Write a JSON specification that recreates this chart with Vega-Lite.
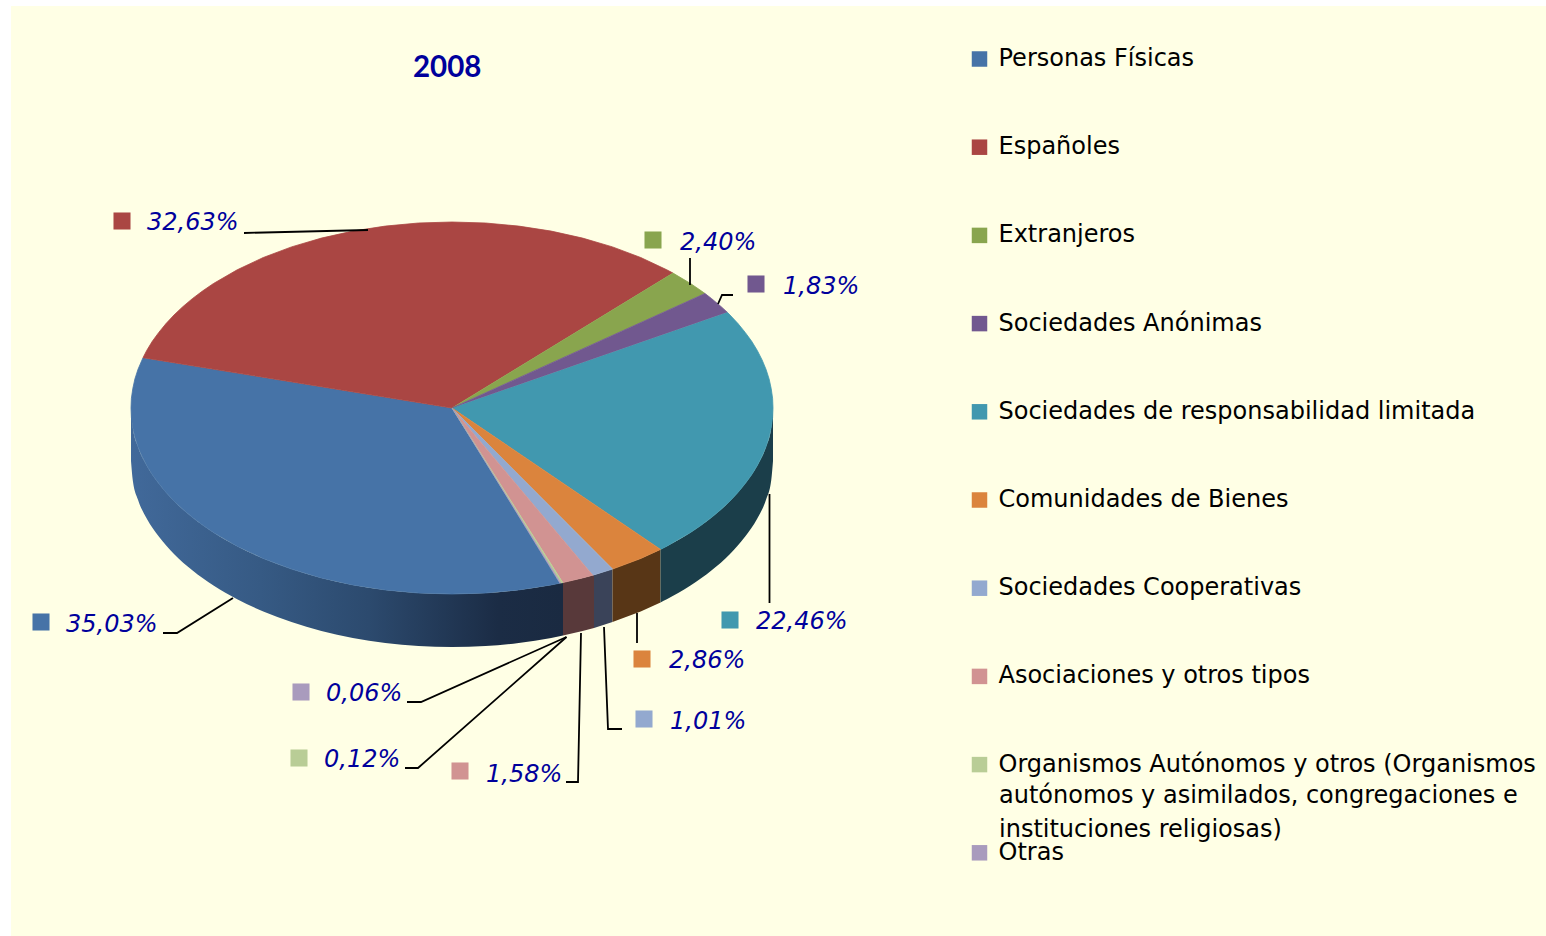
{
"$schema":"https://vega.github.io/schema/vega-lite/v6.json",
"width":1546,"height":936,"padding":0,"autosize":{"type":"none"},
"background":"#ffffff",
"view":{"stroke":null},
"title":{"text":"2008","anchor":"start","orient":"top","dx":413,"dy":83,"offset":0,"font":"Lato","fontSize":29.5,"fontWeight":"bold","color":"#00009C","zindex":1},
"datasets":{
"tipos":[
{"tipo":"Personas Físicas","cuota":35.03,"etiqueta":"35,03%","kx":41,"ky":622,"tx":66,"ty":625},
{"tipo":"Españoles","cuota":32.63,"etiqueta":"32,63%","kx":122,"ky":221,"tx":147,"ty":223},
{"tipo":"Extranjeros","cuota":2.40,"etiqueta":"2,40%","kx":653,"ky":240,"tx":680,"ty":243},
{"tipo":"Sociedades Anónimas","cuota":1.83,"etiqueta":"1,83%","kx":756,"ky":284,"tx":783,"ty":287},
{"tipo":"Sociedades de responsabilidad limitada","cuota":22.46,"etiqueta":"22,46%","kx":730,"ky":620,"tx":756,"ty":622},
{"tipo":"Comunidades de Bienes","cuota":2.86,"etiqueta":"2,86%","kx":642,"ky":659,"tx":669,"ty":661},
{"tipo":"Sociedades Cooperativas","cuota":1.01,"etiqueta":"1,01%","kx":644,"ky":719,"tx":670,"ty":722},
{"tipo":"Asociaciones y otros tipos","cuota":1.58,"etiqueta":"1,58%","kx":460,"ky":771,"tx":486,"ty":775},
{"tipo":"Organismos Autónomos y otros (Organismos","cuota":0.12,"etiqueta":"0,12%","kx":299,"ky":758,"tx":324,"ty":760},
{"tipo":"Otras","cuota":0.06,"etiqueta":"0,06%","kx":301,"ky":692,"tx":326,"ty":694}
],
"caras":[
{"t":"Sociedades de responsabilidad limitada","o":0,"x":452,"y":408},{"t":"Sociedades de responsabilidad limitada","o":1,"x":727.2,"y":312.2},{"t":"Sociedades de responsabilidad limitada","o":2,"x":730,"y":315},{"t":"Sociedades de responsabilidad limitada","o":2.5,"x":738,"y":323.6},{"t":"Sociedades de responsabilidad limitada","o":3,"x":745.2,"y":332.4},{"t":"Sociedades de responsabilidad limitada","o":3.5,"x":751.7,"y":341.3},{"t":"Sociedades de responsabilidad limitada","o":4,"x":757.3,"y":350.5},{"t":"Sociedades de responsabilidad limitada","o":4.5,"x":762.1,"y":359.9},{"t":"Sociedades de responsabilidad limitada","o":5,"x":766,"y":369.3},{"t":"Sociedades de responsabilidad limitada","o":5.5,"x":769.1,"y":378.9},{"t":"Sociedades de responsabilidad limitada","o":6,"x":771.2,"y":388.6},{"t":"Sociedades de responsabilidad limitada","o":6.5,"x":772.6,"y":398.3},{"t":"Sociedades de responsabilidad limitada","o":7,"x":773,"y":408},{"t":"Sociedades de responsabilidad limitada","o":7.5,"x":772.6,"y":417.7},{"t":"Sociedades de responsabilidad limitada","o":8,"x":771.2,"y":427.4},{"t":"Sociedades de responsabilidad limitada","o":8.5,"x":769.1,"y":437.1},{"t":"Sociedades de responsabilidad limitada","o":9,"x":766,"y":446.7},{"t":"Sociedades de responsabilidad limitada","o":9.5,"x":762.1,"y":456.1},{"t":"Sociedades de responsabilidad limitada","o":10,"x":757.3,"y":465.5},{"t":"Sociedades de responsabilidad limitada","o":10.5,"x":751.7,"y":474.7},{"t":"Sociedades de responsabilidad limitada","o":11,"x":745.2,"y":483.6},{"t":"Sociedades de responsabilidad limitada","o":11.5,"x":738,"y":492.4},{"t":"Sociedades de responsabilidad limitada","o":12,"x":730,"y":501},{"t":"Sociedades de responsabilidad limitada","o":12.5,"x":721.2,"y":509.3},{"t":"Sociedades de responsabilidad limitada","o":13,"x":711.7,"y":517.3},{"t":"Sociedades de responsabilidad limitada","o":13.5,"x":701.5,"y":525},{"t":"Sociedades de responsabilidad limitada","o":14,"x":690.5,"y":532.5},{"t":"Sociedades de responsabilidad limitada","o":15,"x":666.8,"y":546.2},{"t":"Sociedades de responsabilidad limitada","o":16,"x":660.5,"y":549.4},
{"t":"Comunidades de Bienes","o":0,"x":452,"y":408},{"t":"Comunidades de Bienes","o":1,"x":660.5,"y":549.4},{"t":"Comunidades de Bienes","o":2,"x":640.7,"y":558.5},{"t":"Comunidades de Bienes","o":3,"x":612.5,"y":569.1},
{"t":"Sociedades Cooperativas","o":0,"x":452,"y":408},{"t":"Sociedades Cooperativas","o":1,"x":612.5,"y":569.1},{"t":"Sociedades Cooperativas","o":2,"x":592.7,"y":575.2},
{"t":"Asociaciones y otros tipos","o":0,"x":452,"y":408},{"t":"Asociaciones y otros tipos","o":1,"x":592.7,"y":575.2},{"t":"Asociaciones y otros tipos","o":2,"x":582.6,"y":577.9},{"t":"Asociaciones y otros tipos","o":3,"x":562.8,"y":582.6},
{"t":"Personas Físicas","o":0,"x":452,"y":408},{"t":"Personas Físicas","o":1,"x":559.7,"y":583.2},{"t":"Personas Físicas","o":2,"x":551.2,"y":584.9},{"t":"Personas Físicas","o":3,"x":518.7,"y":589.9},{"t":"Personas Físicas","o":4,"x":485.5,"y":593},{"t":"Personas Físicas","o":5,"x":452,"y":594},{"t":"Personas Físicas","o":6,"x":418.5,"y":593},{"t":"Personas Físicas","o":7,"x":385.3,"y":589.9},{"t":"Personas Físicas","o":8,"x":352.8,"y":584.9},{"t":"Personas Físicas","o":9,"x":321.4,"y":577.9},{"t":"Personas Físicas","o":10,"x":291.5,"y":569.1},{"t":"Personas Físicas","o":11,"x":263.3,"y":558.5},{"t":"Personas Físicas","o":12,"x":237.2,"y":546.2},{"t":"Personas Físicas","o":13,"x":213.5,"y":532.5},{"t":"Personas Físicas","o":13.5,"x":202.5,"y":525},{"t":"Personas Físicas","o":14,"x":192.3,"y":517.3},{"t":"Personas Físicas","o":14.5,"x":182.8,"y":509.3},{"t":"Personas Físicas","o":15,"x":174,"y":501},{"t":"Personas Físicas","o":15.5,"x":166,"y":492.4},{"t":"Personas Físicas","o":16,"x":158.8,"y":483.6},{"t":"Personas Físicas","o":16.5,"x":152.3,"y":474.7},{"t":"Personas Físicas","o":17,"x":146.7,"y":465.5},{"t":"Personas Físicas","o":17.5,"x":141.9,"y":456.1},{"t":"Personas Físicas","o":18,"x":138,"y":446.7},{"t":"Personas Físicas","o":18.5,"x":134.9,"y":437.1},{"t":"Personas Físicas","o":19,"x":132.8,"y":427.4},{"t":"Personas Físicas","o":19.5,"x":131.4,"y":417.7},{"t":"Personas Físicas","o":20,"x":131,"y":408},{"t":"Personas Físicas","o":20.5,"x":131.4,"y":398.3},{"t":"Personas Físicas","o":21,"x":132.8,"y":388.6},{"t":"Personas Físicas","o":21.5,"x":134.9,"y":378.9},{"t":"Personas Físicas","o":22,"x":138,"y":369.3},{"t":"Personas Físicas","o":23,"x":143,"y":357.7},
{"t":"Españoles","o":0,"x":452,"y":408},{"t":"Españoles","o":1,"x":143,"y":357.7},{"t":"Españoles","o":2,"x":146.7,"y":350.5},{"t":"Españoles","o":2.5,"x":152.3,"y":341.3},{"t":"Españoles","o":3,"x":158.8,"y":332.4},{"t":"Españoles","o":3.5,"x":166,"y":323.6},{"t":"Españoles","o":4,"x":174,"y":315},{"t":"Españoles","o":4.5,"x":182.8,"y":306.7},{"t":"Españoles","o":5,"x":192.3,"y":298.7},{"t":"Españoles","o":5.5,"x":202.5,"y":291},{"t":"Españoles","o":6,"x":213.5,"y":283.5},{"t":"Españoles","o":7,"x":237.2,"y":269.8},{"t":"Españoles","o":8,"x":263.3,"y":257.5},{"t":"Españoles","o":9,"x":291.5,"y":246.9},{"t":"Españoles","o":10,"x":321.4,"y":238.1},{"t":"Españoles","o":11,"x":352.8,"y":231.1},{"t":"Españoles","o":12,"x":385.3,"y":226.1},{"t":"Españoles","o":13,"x":418.5,"y":223},{"t":"Españoles","o":14,"x":452,"y":222},{"t":"Españoles","o":15,"x":485.5,"y":223},{"t":"Españoles","o":16,"x":518.7,"y":226.1},{"t":"Españoles","o":17,"x":551.2,"y":231.1},{"t":"Españoles","o":18,"x":582.6,"y":238.1},{"t":"Españoles","o":19,"x":612.5,"y":246.9},{"t":"Españoles","o":20,"x":640.7,"y":257.5},{"t":"Españoles","o":21,"x":666.8,"y":269.8},{"t":"Españoles","o":22,"x":673,"y":273.1},
{"t":"Extranjeros","o":0,"x":452,"y":408},{"t":"Extranjeros","o":1,"x":673,"y":273.1},{"t":"Extranjeros","o":2,"x":690.5,"y":283.5},{"t":"Extranjeros","o":2.5,"x":701.5,"y":291},{"t":"Extranjeros","o":3,"x":705,"y":293.5},
{"t":"Sociedades Anónimas","o":0,"x":452,"y":408},{"t":"Sociedades Anónimas","o":1,"x":705,"y":293.5},{"t":"Sociedades Anónimas","o":2,"x":711.7,"y":298.7},{"t":"Sociedades Anónimas","o":2.5,"x":721.2,"y":306.7},{"t":"Sociedades Anónimas","o":3,"x":727.2,"y":312.2},
{"t":"Organismos Autónomos y otros (Organismos","o":0,"x":452,"y":408},{"t":"Organismos Autónomos y otros (Organismos","o":1,"x":562.8,"y":582.6},{"t":"Organismos Autónomos y otros (Organismos","o":2,"x":560.7,"y":583},
{"t":"Otras","o":0,"x":452,"y":408},{"t":"Otras","o":1,"x":560.7,"y":583},{"t":"Otras","o":2,"x":559.7,"y":583.2}
],
"guias":[
{"t":"35,03%","o":1,"x":163,"y":633},{"t":"35,03%","o":2,"x":177,"y":633},{"t":"35,03%","o":3,"x":233,"y":598},
{"t":"32,63%","o":1,"x":244,"y":233},{"t":"32,63%","o":2,"x":368,"y":230},
{"t":"2,40%","o":1,"x":690,"y":258},{"t":"2,40%","o":2,"x":690,"y":285},
{"t":"1,83%","o":1,"x":733,"y":295},{"t":"1,83%","o":2,"x":722,"y":295},{"t":"1,83%","o":3,"x":718,"y":304},
{"t":"22,46%","o":1,"x":769.5,"y":494},{"t":"22,46%","o":2,"x":769.5,"y":603},
{"t":"2,86%","o":1,"x":637,"y":613},{"t":"2,86%","o":2,"x":637,"y":643},
{"t":"1,01%","o":1,"x":604,"y":627},{"t":"1,01%","o":2,"x":608,"y":729},{"t":"1,01%","o":3,"x":622,"y":729},
{"t":"1,58%","o":1,"x":581,"y":633},{"t":"1,58%","o":2,"x":578,"y":782},{"t":"1,58%","o":3,"x":566,"y":782},
{"t":"0,12%","o":1,"x":566.5,"y":637},{"t":"0,12%","o":2,"x":418,"y":768},{"t":"0,12%","o":3,"x":405,"y":768},
{"t":"0,06%","o":1,"x":566.5,"y":637},{"t":"0,06%","o":2,"x":421,"y":702},{"t":"0,06%","o":3,"x":407,"y":702}
]
},
"encoding":{
"x":{"field":"x","type":"quantitative","scale":{"domain":[0,1546],"nice":false,"zero":false},"axis":null},
"y":{"field":"y","type":"quantitative","scale":{"domain":[936,0],"nice":false,"zero":false},"axis":null}
},
"layer":[
{"data":{"values":[{"x":11,"x2":1546,"y":6,"y2":936}]},"mark":{"type":"rect","fill":"#FFFFE5"},"encoding":{"x2":{"field":"x2"},"y2":{"field":"y2"}}},
{"data":{"name":"tipos"},"mark":{"type":"square","size":290,"opacity":1,"filled":true},
"encoding":{"x":{"field":"kx","type":"quantitative"},"y":{"field":"ky","type":"quantitative"},
"fill":{"field":"tipo","type":"nominal","scale":{"domain":["Personas Físicas","Españoles","Extranjeros","Sociedades Anónimas","Sociedades de responsabilidad limitada","Comunidades de Bienes","Sociedades Cooperativas","Asociaciones y otros tipos","Organismos Autónomos y otros (Organismos","Otras"],"range":["#4673A7","#AA4643","#89A54E","#71588F","#4198AF","#DB843D","#93A9CF","#D19392","#B9CD96","#A99BBD"]},"legend":{"orient":"none","legendX":967.5,"legendY":47,"title":null,"padding":0,"symbolType":"square","symbolSize":240,"symbolStrokeWidth":0,"symbolOpacity":1,"labelFont":"DejaVu Sans","labelFontSize":24,"labelColor":"#000000","labelOffset":7,"labelLimit":620,"rowPadding":64.2}}}},
{"data":{"values":[{"x":131,"y":408,"y2":461},{"x":132.8,"y":427.4,"y2":480.4},{"x":138,"y":446.7,"y2":499.7},{"x":146.7,"y":465.5,"y2":518.5},{"x":158.8,"y":483.6,"y2":536.6},{"x":174,"y":501,"y2":554},{"x":192.3,"y":517.3,"y2":570.3},{"x":213.5,"y":532.5,"y2":585.5},{"x":237.2,"y":546.2,"y2":599.2},{"x":263.3,"y":558.5,"y2":611.5},{"x":291.5,"y":569.1,"y2":622.1},{"x":321.4,"y":577.9,"y2":630.9},{"x":352.8,"y":584.9,"y2":637.9},{"x":385.3,"y":589.9,"y2":642.9},{"x":418.5,"y":593,"y2":646},{"x":452,"y":594,"y2":647},{"x":485.5,"y":593,"y2":646},{"x":518.7,"y":589.9,"y2":642.9},{"x":551.2,"y":584.9,"y2":637.9},{"x":563,"y":582.6,"y2":635.6}]},
"mark":{"type":"area","interpolate":"monotone","fill":{"gradient":"linear","x1":0,"y1":0,"x2":1,"y2":0,"stops":[{"offset":0,"color":"#41699A"},{"offset":0.3,"color":"#365A84"},{"offset":0.55,"color":"#2C4A6E"},{"offset":0.85,"color":"#1B2C45"},{"offset":1,"color":"#1A2A41"}]}},"encoding":{"y2":{"field":"y2"}}},
{"data":{"values":[{"x":563,"y":582.6,"y2":635.6},{"x":582.6,"y":577.9,"y2":630.9},{"x":594,"y":575,"y2":628}]},"mark":{"type":"area","fill":"#58393A"},"encoding":{"y2":{"field":"y2"}}},
{"data":{"values":[{"x":594,"y":575,"y2":628},{"x":612.5,"y":569.1,"y2":622.1}]},"mark":{"type":"area","fill":"#3A4359"},"encoding":{"y2":{"field":"y2"}}},
{"data":{"values":[{"x":612.5,"y":569.1,"y2":622.1},{"x":640.7,"y":558.5,"y2":611.5},{"x":660.5,"y":549.4,"y2":602.4}]},"mark":{"type":"area","fill":"#583616"},"encoding":{"y2":{"field":"y2"}}},
{"data":{"values":[{"x":660.5,"y":549.4,"y2":602.4},{"x":666.8,"y":546.2,"y2":599.2},{"x":690.5,"y":532.5,"y2":585.5},{"x":711.7,"y":517.3,"y2":570.3},{"x":730,"y":501,"y2":554},{"x":745.2,"y":483.6,"y2":536.6},{"x":757.3,"y":465.5,"y2":518.5},{"x":766,"y":446.7,"y2":499.7},{"x":771.2,"y":427.4,"y2":480.4},{"x":773,"y":408,"y2":461}]},"mark":{"type":"area","interpolate":"monotone","fill":"#1B3E4A"},"encoding":{"y2":{"field":"y2"}}},
{"data":{"name":"caras"},"mark":{"type":"line","strokeWidth":0.8,"interpolate":"linear"},
"encoding":{"order":{"field":"o","type":"quantitative"},
"fill":{"field":"t","type":"nominal"},
"stroke":{"field":"t","type":"nominal","legend":null,"scale":{"domain":["Personas Físicas","Españoles","Extranjeros","Sociedades Anónimas","Sociedades de responsabilidad limitada","Comunidades de Bienes","Sociedades Cooperativas","Asociaciones y otros tipos","Organismos Autónomos y otros (Organismos","Otras"],"range":["#4673A7","#AA4643","#89A54E","#71588F","#4198AF","#DB843D","#93A9CF","#D19392","#B9CD96","#A99BBD"]}}}},
{"data":{"name":"guias"},"mark":{"type":"line","stroke":"#000000","strokeWidth":1.8},
"encoding":{"order":{"field":"o","type":"quantitative"},"detail":{"field":"t"}}},
{"data":{"name":"tipos"},"mark":{"type":"text","font":"DejaVu Sans","fontStyle":"italic","fontSize":24,"color":"#00009C","align":"left","baseline":"middle"},
"encoding":{"x":{"field":"tx","type":"quantitative"},"y":{"field":"ty","type":"quantitative"},"text":{"field":"etiqueta"}}},
{"data":{"values":[{"linea":"autónomos y asimilados, congregaciones e","x":999,"y":796},{"linea":"instituciones religiosas)","y":830,"x":999}]},"mark":{"type":"text","font":"DejaVu Sans","fontSize":24,"color":"#000000","align":"left","baseline":"middle"},"encoding":{"text":{"field":"linea"}}}
]
}
